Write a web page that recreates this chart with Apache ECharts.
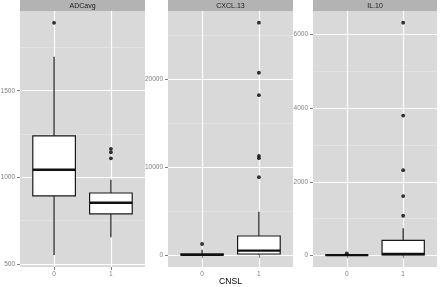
<!DOCTYPE html>
<html>
<head>
<meta charset="utf-8">
<script src="https://cdn.jsdelivr.net/npm/echarts@6/dist/echarts.min.js"></script>
<style>
  html, body { margin: 0; padding: 0; background: #fff; }
  #chart { width: 440px; height: 287px; }
</style>
</head>
<body>
<div id="chart"></div>
<script>
const categories = ['0', '1'];
const panelNames = ['ADCavg', 'CXCL.13', 'IL.10'];
const axisTitle = 'CNSL';

// [min, q1, median, q3, max] per CNSL group
const adcStats = [[552, 893, 1044, 1239, 1696], [655, 789, 854, 910, 987]];
const adcOutliers = [[1892], [1165, 1145, 1110]];
const cxclStats = [[0, 10, 30, 90, 600], [0, 110, 490, 2160, 4930]];
const cxclOutliers = [[1250], [26450, 20750, 18200, 11290, 11020, 8860]];
const il10Stats = [[0, 2, 5, 12, 30], [0, 10, 35, 407, 733]];
const il10Outliers = [[55], [6325, 3800, 2315, 1610, 1075]];

const adcTicks = [500, 1000, 1500];
const cxclTicks = [0, 10000, 20000];
const il10Ticks = [0, 2000, 4000, 6000];
const adcMinor = [750, 1250, 1750];
const cxclMinor = [5000, 15000, 25000];
const il10Minor = [1000, 3000, 5000];

const chart = echarts.init(document.getElementById('chart'));

const panels = [
    { name: panelNames[0], stats: adcStats, outliers: adcOutliers, ticks: adcTicks, minor: adcMinor, min: 483, max: 1960, left: 20, width: 125 },
    { name: panelNames[1], stats: cxclStats, outliers: cxclOutliers, ticks: cxclTicks, minor: cxclMinor, min: -1370, max: 27780, left: 168, width: 125 },
    { name: panelNames[2], stats: il10Stats, outliers: il10Outliers, ticks: il10Ticks, minor: il10Minor, min: -318, max: 6643, left: 313, width: 124 }
];
const gridTop = 11, gridHeight = 256;

function renderBox(params, api) {
    const x = api.value(0);
    const lo = api.coord([x, api.value(1)]);
    const q1 = api.coord([x, api.value(2)]);
    const med = api.coord([x, api.value(3)]);
    const q3 = api.coord([x, api.value(4)]);
    const hi = api.coord([x, api.value(5)]);
    const half = api.size([0.75, 0])[0] / 2;
    const stroke = { stroke: '#1a1a1a', lineWidth: 1.2 };
    return {
        type: 'group',
        children: [
            { type: 'line', shape: { x1: hi[0], y1: hi[1], x2: q3[0], y2: q3[1] }, style: stroke },
            { type: 'line', shape: { x1: q1[0], y1: q1[1], x2: lo[0], y2: lo[1] }, style: stroke },
            { type: 'rect', shape: { x: q3[0] - half, y: q3[1], width: half * 2, height: q1[1] - q3[1] },
              style: { fill: '#fff', stroke: '#1a1a1a', lineWidth: 1.2 } },
            { type: 'line', shape: { x1: med[0] - half, y1: med[1], x2: med[0] + half, y2: med[1] },
              style: { stroke: '#111', lineWidth: 2.4 } }
        ]
    };
}

const grid = [], xAxis = [], yAxis = [], series = [], graphic = [];

panels.forEach(function (p, i) {
    grid.push({ left: p.left, top: gridTop, width: p.width, height: gridHeight, show: true,
        backgroundColor: '#d9d9d9', borderWidth: 0, outerBoundsMode: 'none', containLabel: false });
    xAxis.push({
        type: 'value', gridIndex: i, min: 0.4, max: 2.6,
        axisLine: { show: false },
        axisTick: { show: true, length: 3, customValues: [1, 2], lineStyle: { color: '#7f7f7f' } },
        axisLabel: { customValues: [1, 2], formatter: function (v) { return categories[Math.round(v) - 1]; },
            color: '#7f7f7f', fontSize: 6.5, fontFamily: 'Liberation Sans', margin: 4 },
        splitLine: { show: true, lineStyle: { color: '#fff', width: 1.2 } }
    });
    // major y axis
    yAxis.push({
        type: 'value', gridIndex: i, min: p.min, max: p.max,
        axisLine: { show: false },
        axisTick: { show: true, length: 3, customValues: p.ticks, lineStyle: { color: '#7f7f7f' } },
        axisLabel: { customValues: p.ticks, formatter: function (v) { return String(v); },
            color: '#7f7f7f', fontSize: 6.5, fontFamily: 'Liberation Sans', margin: 5 },
        splitLine: { show: true, lineStyle: { color: '#fff', width: 1.2 } }
    });
    // minor grid lines
    yAxis.push({
        type: 'value', gridIndex: i, min: p.min, max: p.max, position: 'left',
        axisLine: { show: false },
        axisTick: { show: false, customValues: p.minor },
        axisLabel: { show: false, customValues: p.minor },
        splitLine: { show: true, lineStyle: { color: '#e6e6e6', width: 0.8 } }
    });

    series.push({
        type: 'custom', xAxisIndex: i, yAxisIndex: i * 2,
        renderItem: renderBox,
        encode: { x: 0, y: [1, 2, 3, 4, 5] },
        data: p.stats.map(function (s, k) { return [k + 1].concat(s); }),
        z: 3
    });
    const pts = [];
    p.outliers.forEach(function (arr, k) {
        arr.forEach(function (v) { pts.push([k + 1, v]); });
    });
    series.push({
        type: 'scatter', xAxisIndex: i, yAxisIndex: i * 2,
        data: pts, symbolSize: 3.8, itemStyle: { color: '#000' }, z: 4
    });

    graphic.push({ type: 'rect', left: p.left, top: 0, shape: { width: p.width, height: gridTop },
        style: { fill: '#b3b3b3' } });
    graphic.push({ type: 'text', x: p.left + p.width / 2, y: gridTop / 2 + 0.5,
        style: { text: p.name, fill: '#1a1a1a', font: '7px "Liberation Sans"', textAlign: 'center', textVerticalAlign: 'middle' } });
});

graphic.push({ type: 'text', x: panels[1].left + panels[1].width / 2, y: 282,
    style: { text: axisTitle, fill: '#000', font: '8.6px "Liberation Sans"', textAlign: 'center', textVerticalAlign: 'middle' } });

chart.setOption({
    animation: false,
    grid: grid,
    xAxis: xAxis,
    yAxis: yAxis,
    series: series,
    graphic: graphic
});
</script>
</body>
</html>
